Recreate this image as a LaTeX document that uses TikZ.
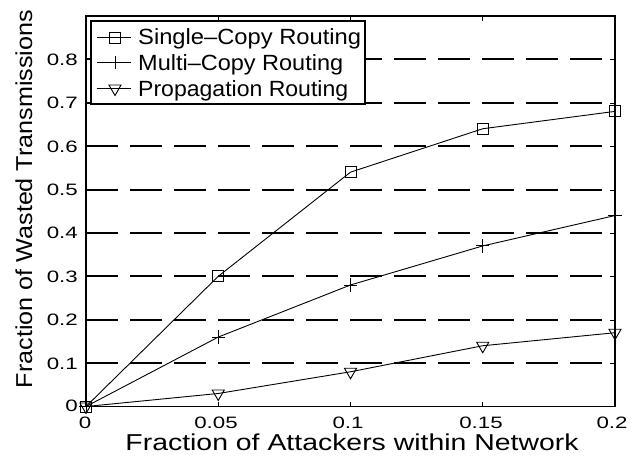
\documentclass[tikz,border=0pt]{standalone}
\usepackage{fontspec}
\setmainfont{Liberation Sans}
\usetikzlibrary{shapes.geometric,shapes.misc}
\newcommand{\hfit}[2]{\resizebox{#1}{\height}{#2}}
\newcommand{\tk}[1]{\scalebox{1.35}[1]{#1}}
\begin{document}
\begin{tikzpicture}[x=1pt,y=-1pt,
  axisline/.style={line width=1.5pt},
  gridline/.style={line width=1.8pt, dash pattern=on 32pt off 12pt},
  tickline/.style={line width=1pt},
  dataline/.style={line width=0.9pt},
  sqmark/.style={draw, rectangle, minimum size=11pt, inner sep=0pt, line width=0.9pt},
  trimark/.style={draw, regular polygon, regular polygon sides=3, shape border rotate=180, minimum size=14pt, inner sep=0pt, line width=0.9pt},
  plusmark/.style={draw, cross out, rotate=45, minimum size=8.5pt, inner sep=0pt, line width=0.9pt},
  ticklab/.style={inner sep=0pt, font=\fontsize{16.5}{18}\selectfont},
  axlab/.style={inner sep=0pt, font=\fontsize{23}{26}\selectfont},
  leglab/.style={inner sep=0pt, anchor=base west, font=\fontsize{22}{25}\selectfont},
  legbox/.style={draw, fill=white, line width=1.1pt, minimum width=274pt, minimum height=83pt, inner sep=0pt}
]
\useasboundingbox (0,0) rectangle (633,461);

% grid lines (snapped to whole pixels)
\foreach \gy in {363,320,276,233,190,146,103,59}{
  \draw[gridline] (86,\gy) -- (615,\gy);
}

% axis frame
\coordinate (ll) at (86,406.5);
\coordinate (ur) at (615,16);
\draw[axisline] (ll) rectangle (ur);

% ticks
\foreach \u in {0.05,0.1,0.15}{
  \draw[tickline] ({86+2645*\u},406.5) -- ({86+2645*\u},401.5);
  \draw[tickline] ({86+2645*\u},16) -- ({86+2645*\u},21);
}
\foreach \gy in {363,320,276,233,190,146,103,59}{
  \draw[tickline] (86,\gy) -- (91,\gy);
  \draw[tickline] (615,\gy) -- (610,\gy);
}

% tick labels
\node[ticklab, anchor=base] (x0) at (85,428) {\tk{0}};
\node[ticklab, anchor=base] (x1) at (216,428) {\tk{0.05}};
\node[ticklab, anchor=base] (x2) at (348,428) {\tk{0.1}};
\node[ticklab, anchor=base] (x3) at (481,428) {\tk{0.15}};
\node[ticklab, anchor=base] (x4) at (612,428) {\tk{0.2}};
\node[ticklab, anchor=base east] (y0) at (78,411.5) {\tk{0}};
\foreach \v/\t in {1/0.1,2/0.2,3/0.3,4/0.4,5/0.5,6/0.6,7/0.7,8/0.8}{
  \node[ticklab, anchor=base east] (yt\v) at (78,{412.5-43.4*\v}) {\tk{\t}};
}

% axis labels
\node[axlab, anchor=base] (xlab) at (352,450) {\hfit{453pt}{Fraction of Attackers within Network}};
\node[axlab, anchor=base, rotate=90] (ylab) at (32,199) {\hfit{378pt}{Fraction of Wasted Transmissions}};

% data coordinates
\coordinate (s0) at (86,406.5);
\coordinate (s1) at ({86+2645*0.05},{406.5-434*0.30});
\coordinate (s2) at ({86+2645*0.10},{406.5-434*0.54});
\coordinate (s3) at ({86+2645*0.15},{406.5-434*0.64});
\coordinate (s4) at ({86+2645*0.20},{406.5-434*0.68});
\coordinate (m0) at (86,406.5);
\coordinate (m1) at ({86+2645*0.05},{406.5-434*0.16});
\coordinate (m2) at ({86+2645*0.10},{406.5-434*0.28});
\coordinate (m3) at ({86+2645*0.15},{406.5-434*0.37});
\coordinate (m4) at ({86+2645*0.20},{406.5-434*0.44});
\coordinate (p0) at (86,406.5);
\coordinate (p1) at ({86+2645*0.05},{406.5-434*0.03});
\coordinate (p2) at ({86+2645*0.10},{406.5-434*0.08});
\coordinate (p3) at ({86+2645*0.15},{406.5-434*0.14});
\coordinate (p4) at ({86+2645*0.20},{406.5-434*0.17});

\draw[dataline] (s0) -- (s1) -- (s2) -- (s3) -- (s4);
\draw[dataline] (m0) -- (m1) -- (m2) -- (m3) -- (m4);
\draw[dataline] (p0) -- (p1) -- (p2) -- (p3) -- (p4);

\foreach \i in {0,...,4}{
  \node[sqmark] (sq\i) at (s\i) {};
  \node[plusmark] (pl\i) at (m\i) {};
  \node[trimark] (tr\i) at (p\i) {};
}

% legend
\node[legbox] (leg) at (228,62.5) {};
\coordinate (la1) at (97,37.5);  \coordinate (lb1) at (131,37.5);
\coordinate (la2) at (97,62.5);  \coordinate (lb2) at (131,62.5);
\coordinate (la3) at (97,88.5);  \coordinate (lb3) at (131,88.5);
\draw[dataline] (la1) -- (lb1);
\draw[dataline] (la2) -- (lb2);
\draw[dataline] (la3) -- (lb3);
\node[sqmark] (lm1) at (115,37.5) {};
\node[plusmark] (lm2) at (115,62.5) {};
\node[trimark] (lm3) at (115,88.5) {};
\node[leglab] (lt1) at (138,44.5) {\hfit{223pt}{Single–Copy Routing}};
\node[leglab] (lt2) at (138,70) {\hfit{205pt}{Multi–Copy Routing}};
\node[leglab] (lt3) at (138,96) {\hfit{210pt}{Propagation Routing}};
\end{tikzpicture}
\end{document}
